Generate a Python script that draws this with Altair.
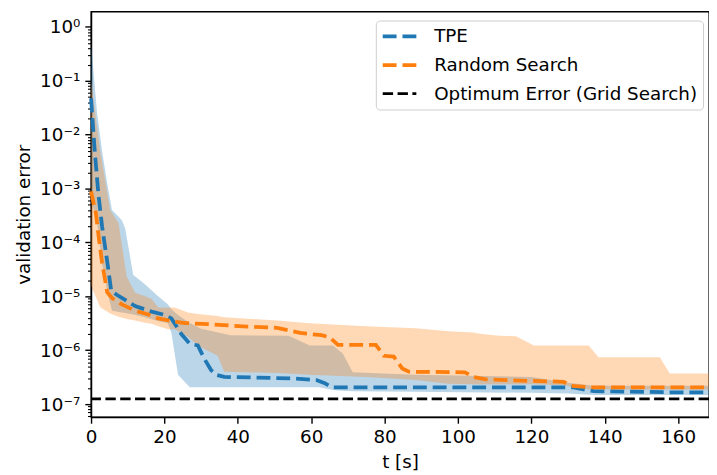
import altair as alt
import pandas as pd

# ---------------- data ----------------
series_names = ["TPE", "Random Search", "Optimum Error (Grid Search)"]
series_colors = ["#1f77b4", "#ff7f0e", "#000000"]

# TPE median curve
tpe_t = [0, 1, 2, 3, 4.5, 5.5, 7, 8.5, 12, 16.5, 19.7, 21.9, 24.6, 26.9, 29.1, 30.9,
         32.7, 34, 36.3, 55.2, 61.4, 63.7, 65.5, 131.5, 135.2, 137, 157.6, 168.4]
tpe_median = [4.7e-2, 5.0e-3, 7.9e-4, 2.0e-4, 4.0e-5, 1.26e-5, 1.07e-5, 9.3e-6, 6.6e-6,
              5.2e-6, 4.6e-6, 3.9e-6, 2.0e-6, 1.32e-6, 1.23e-6, 6.9e-7, 4.3e-7, 3.5e-7,
              3.2e-7, 3.0e-7, 2.8e-7, 2.45e-7, 2.05e-7, 2.05e-7, 1.82e-7, 1.74e-7,
              1.66e-7, 1.66e-7]

# TPE spread band
tpe_band_t = [0, 1.6, 3.0, 4.4, 5.7, 8.4, 9.3, 11.5, 14.2, 18.2, 20.9, 21.9, 23.7, 26.9,
              30, 38, 53.8, 59.6, 62.3, 65.9, 68.6, 71.3, 88, 120, 130, 137, 168.4]
tpe_low = [6.3e-4, 2.5e-4, 4.0e-5, 1.26e-5, 5.4e-6, 5.0e-6, 4.9e-6, 4.6e-6, 4.2e-6,
           3.5e-6, 3.2e-6, 2.1e-6, 3.5e-7, 2.05e-7, 2.05e-7, 2.05e-7, 2.05e-7, 2.05e-7,
           2.05e-7, 1.82e-7, 1.78e-7, 1.74e-7, 1.7e-7, 1.62e-7, 1.58e-7, 1.48e-7, 1.48e-7]
tpe_high = [0.50, 2.7e-2, 5.0e-3, 1.26e-3, 4.0e-4, 2.57e-4, 1.82e-4, 2.5e-5, 1.78e-5,
            1.02e-5, 7.1e-6, 5.75e-6, 4.5e-6, 3.2e-6, 2.5e-6, 1.9e-6, 1.86e-6, 1.23e-6,
            1.23e-6, 1.23e-6, 8.7e-7, 3.9e-7, 3.5e-7, 3.2e-7, 2.5e-7, 2.2e-7, 2.2e-7]

# Random Search median curve
rs_t = [0, 1.3, 2.2, 3, 4.4, 5.7, 8.4, 12, 15.6, 18.3, 21.9, 25.5, 33.6, 42.6, 50.7, 57,
        62.8, 65, 67.3, 77.6, 79.8, 82.5, 84.8, 86.6, 101.9, 104.1, 107.2, 119.8, 128.8,
        130.7, 136, 168.4]
rs_median = [8.9e-4, 3.5e-4, 1.1e-4, 4.2e-5, 1.2e-5, 9.3e-6, 7.1e-6, 5.4e-6, 4.6e-6,
             3.9e-6, 3.5e-6, 3.2e-6, 3.0e-6, 2.75e-6, 2.6e-6, 2.1e-6, 1.9e-6, 1.74e-6,
             1.26e-6, 1.26e-6, 7.9e-7, 7.6e-7, 4.6e-7, 4.0e-7, 3.9e-7, 3.2e-7, 2.9e-7,
             2.7e-7, 2.6e-7, 2.2e-7, 2.05e-7, 2.05e-7]

# Random Search spread band
rs_band_t = [0, 2.5, 5.2, 7.5, 9.7, 12, 14.7, 16.5, 18.3, 21, 22.8, 26.4, 29.1, 34.5,
             36.3, 50.7, 59.6, 74.9, 88.4, 97.4, 104.1, 106.4, 111.3, 115.8, 120.7,
             128.8, 135.6, 138.3, 155, 157.7, 168.4]
rs_low = [1.58e-5, 6.3e-6, 4.8e-6, 4.2e-6, 3.8e-6, 3.55e-6, 3.24e-6, 3.1e-6, 2.8e-6,
          2.45e-6, 2.45e-6, 1.78e-6, 1.23e-6, 7.9e-7, 4.0e-7, 3.8e-7, 3.5e-7, 3.2e-7,
          2.8e-7, 2.4e-7, 2.35e-7, 2.35e-7, 2.35e-7, 2.35e-7, 2.35e-7, 2.24e-7, 1.86e-7,
          1.86e-7, 1.86e-7, 1.86e-7, 1.86e-7]
rs_high = [0.1, 5.0e-3, 4.0e-4, 2.24e-4, 2.34e-5, 1.17e-5, 1.0e-5, 8.9e-6, 6.2e-6,
           6.2e-6, 6.2e-6, 5.0e-6, 4.7e-6, 4.3e-6, 4.1e-6, 3.55e-6, 3.16e-6, 2.8e-6,
           2.57e-6, 2.24e-6, 2.14e-6, 2.0e-6, 1.86e-6, 1.82e-6, 1.23e-6, 1.23e-6,
           1.23e-6, 7.4e-7, 7.4e-7, 3.7e-7, 3.7e-7]

optimum_error = 1.25e-7

# axis ticks / labels
x_ticks = [0, 20, 40, 60, 80, 100, 120, 140, 160]
y_major = [1e-7, 1e-6, 1e-5, 1e-4, 1e-3, 1e-2, 1e-1, 1e0]
y_labels = ["10⁻⁷", "10⁻⁶", "10⁻⁵", "10⁻⁴", "10⁻³", "10⁻²", "10⁻¹", "10⁰"]
x_domain = [0, 168.4]
y_domain = [5.77e-8, 1.92]

# ---------------- tables ----------------
y_minor = []
for k in range(-8, 1):
    for m in range(2, 10):
        v = m * 10.0 ** k
        if y_domain[0] <= v <= y_domain[1]:
            y_minor.append(v)

tpe_band_df = pd.DataFrame({"t": tpe_band_t, "low": tpe_low, "high": tpe_high})
rs_band_df = pd.DataFrame({"t": rs_band_t, "low": rs_low, "high": rs_high})
lines_df = pd.concat([
    pd.DataFrame({"series": series_names[0], "t": tpe_t, "v": tpe_median}),
    pd.DataFrame({"series": series_names[1], "t": rs_t, "v": rs_median}),
])
opt_df = pd.DataFrame({"series": [series_names[2]], "v": [optimum_error]})

label_expr = ""
for v, lab in zip(y_major[:-1], y_labels[:-1]):
    label_expr += f"datum.value < {v * 3.1623:.4g} ? '{lab}' : "
label_expr += f"'{y_labels[-1]}'"

FONT = "DejaVu Sans"
FS = 18.5
xscale = alt.Scale(domain=x_domain, nice=False, zero=False)
yscale = alt.Scale(type="log", domain=y_domain, nice=False)

x_axis = alt.Axis(values=x_ticks, title="t [s]", format="d", tickSize=6.3,
                  labelPadding=5, titlePadding=6, labelFlush=False,
                  labelFont=FONT, labelFontSize=FS, titleFont=FONT, titleFontSize=FS)
y_axis_major = alt.Axis(values=y_major, labelExpr=label_expr, orient="left",
                        tickSize=6.3, labelPadding=5, title="validation error",
                        labelFont=FONT, labelFontSize=FS, titleFont=FONT,
                        titleFontSize=FS,
                        titleAngle=-90, titleX=-62, titleY=205,
                        titleBaseline="alphabetic", titleAlign="center")
y_axis_minor = alt.Axis(values=y_minor, labels=False, orient="left", tickSize=3.6,
                        tickWidth=1.1, domain=False, title=None)

legend = alt.Legend(title=None, orient="none", legendX=288, legendY=9,
                    symbolType="stroke", symbolSize=1156, clipHeight=22,
                    rowPadding=7, padding=5, labelFontSize=FS, labelFont=FONT,
                    labelColor="black", labelOffset=16, symbolOffset=0,
                    labelLimit=500,
                    strokeColor="#cccccc", fillColor="white", cornerRadius=4)

color_enc = alt.Color("series:N", scale=alt.Scale(domain=series_names, range=series_colors),
                      legend=legend)
dash_enc = alt.StrokeDash("series:N",
                          scale=alt.Scale(domain=series_names,
                                          range=[[14, 6], [14, 6], [10.5, 4.5]]),
                          legend=legend)
width_enc = alt.StrokeWidth("series:N",
                            scale=alt.Scale(type="ordinal", domain=series_names,
                                            range=[3.8, 3.8, 2.7]),
                            legend=legend)

tpe_area = alt.Chart(tpe_band_df).mark_area(color="#1f77b4", opacity=0.3).encode(
    x=alt.X("t:Q", scale=xscale, axis=x_axis),
    y=alt.Y("low:Q", scale=yscale, axis=y_axis_minor),
    y2="high:Q",
)
rs_area = alt.Chart(rs_band_df).mark_area(color="#ff7f0e", opacity=0.3).encode(
    x=alt.X("t:Q", scale=xscale, axis=x_axis),
    y=alt.Y("low:Q", scale=yscale, axis=None),
    y2="high:Q",
)
lines = alt.Chart(lines_df).mark_line(strokeCap="butt").encode(
    x=alt.X("t:Q", scale=xscale, axis=x_axis),
    y=alt.Y("v:Q", scale=yscale, axis=y_axis_major),
    color=color_enc,
    strokeDash=dash_enc,
    strokeWidth=width_enc,
    order="t:Q",
)
opt_rule = alt.Chart(opt_df).mark_rule(strokeCap="butt").encode(
    y=alt.Y("v:Q", scale=yscale, axis=None),
    color=color_enc,
    strokeDash=dash_enc,
    strokeWidth=width_enc,
)

chart = alt.layer(tpe_area, rs_area, lines, opt_rule).resolve_axis(
    y="independent"
).properties(
    width=625, height=410,
    autosize=alt.AutoSizeParams(type="none"),
    padding={"left": 84, "top": 1, "right": 0, "bottom": 56},
).configure_view(
    stroke="black", strokeWidth=1.4
).configure_axis(
    grid=False, domainColor="black", domainWidth=1.4, tickColor="black", tickWidth=1.4,
    labelColor="black", titleColor="black", labelFont=FONT, titleFont=FONT,
    labelFontSize=FS, titleFontSize=FS, titleFontWeight="normal",
)

chart.save("out.html", embed_options={"renderer": "svg", "actions": False})
